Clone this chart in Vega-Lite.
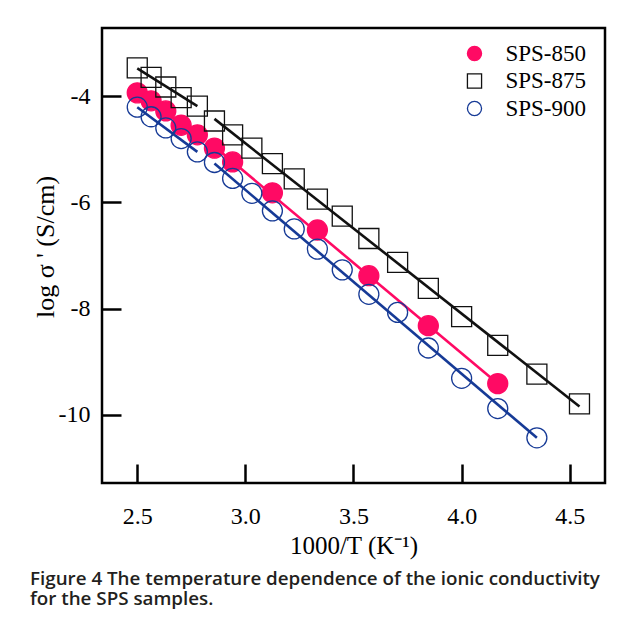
{
  "$schema": "https://vega.github.io/schema/vega-lite/v6.json",
  "width": 503,
  "height": 455,
  "autosize": "none",
  "padding": {"left": 102, "top": 28, "right": 24, "bottom": 141},
  "background": "white",
  "config": {
    "view": {"stroke": "black", "strokeWidth": 2.5},
    "font": "Liberation Serif",
    "axis": {
      "domain": false,
      "grid": false,
      "tickColor": "black",
      "tickWidth": 2.5,
      "tickSize": -19,
      "labelFont": "Liberation Serif",
      "labelFontSize": 24,
      "labelColor": "black",
      "titleFont": "Liberation Serif",
      "titleFontSize": 25,
      "titleFontWeight": "normal",
      "titleColor": "black"
    }
  },
  "title": {
    "text": ["Figure 4 The temperature dependence of the ionic conductivity", "for the SPS samples."],
    "orient": "bottom",
    "anchor": "start",
    "frame": "group",
    "align": "left",
    "dx": -72,
    "offset": 12,
    "font": "Open Sans",
    "fontSize": 18.8,
    "fontWeight": 600,
    "color": "#231f20",
    "lineHeight": 20
  },
  "datasets": {
    "pts": [
      {"series": "SPS-850", "x": 2.5, "y": -3.94},
      {"series": "SPS-850", "x": 2.564, "y": -4.09},
      {"series": "SPS-850", "x": 2.632, "y": -4.28},
      {"series": "SPS-850", "x": 2.703, "y": -4.55},
      {"series": "SPS-850", "x": 2.778, "y": -4.73},
      {"series": "SPS-850", "x": 2.857, "y": -4.98},
      {"series": "SPS-850", "x": 2.941, "y": -5.24},
      {"series": "SPS-850", "x": 3.125, "y": -5.82},
      {"series": "SPS-850", "x": 3.333, "y": -6.52},
      {"series": "SPS-850", "x": 3.571, "y": -7.38},
      {"series": "SPS-850", "x": 3.846, "y": -8.32},
      {"series": "SPS-850", "x": 4.167, "y": -9.41},
      {"series": "SPS-875", "x": 2.5, "y": -3.47},
      {"series": "SPS-875", "x": 2.564, "y": -3.65},
      {"series": "SPS-875", "x": 2.632, "y": -3.83},
      {"series": "SPS-875", "x": 2.703, "y": -4.03},
      {"series": "SPS-875", "x": 2.778, "y": -4.19},
      {"series": "SPS-875", "x": 2.857, "y": -4.47},
      {"series": "SPS-875", "x": 2.941, "y": -4.73},
      {"series": "SPS-875", "x": 3.03, "y": -4.98},
      {"series": "SPS-875", "x": 3.125, "y": -5.27},
      {"series": "SPS-875", "x": 3.226, "y": -5.56},
      {"series": "SPS-875", "x": 3.333, "y": -5.94},
      {"series": "SPS-875", "x": 3.448, "y": -6.26},
      {"series": "SPS-875", "x": 3.571, "y": -6.68},
      {"series": "SPS-875", "x": 3.704, "y": -7.13},
      {"series": "SPS-875", "x": 3.846, "y": -7.62},
      {"series": "SPS-875", "x": 4.0, "y": -8.15},
      {"series": "SPS-875", "x": 4.167, "y": -8.69},
      {"series": "SPS-875", "x": 4.348, "y": -9.23},
      {"series": "SPS-875", "x": 4.545, "y": -9.79},
      {"series": "SPS-900", "x": 2.5, "y": -4.21},
      {"series": "SPS-900", "x": 2.564, "y": -4.39},
      {"series": "SPS-900", "x": 2.632, "y": -4.6},
      {"series": "SPS-900", "x": 2.703, "y": -4.8},
      {"series": "SPS-900", "x": 2.778, "y": -5.05},
      {"series": "SPS-900", "x": 2.857, "y": -5.25},
      {"series": "SPS-900", "x": 2.941, "y": -5.55},
      {"series": "SPS-900", "x": 3.03, "y": -5.83},
      {"series": "SPS-900", "x": 3.125, "y": -6.16},
      {"series": "SPS-900", "x": 3.226, "y": -6.5},
      {"series": "SPS-900", "x": 3.333, "y": -6.88},
      {"series": "SPS-900", "x": 3.448, "y": -7.27},
      {"series": "SPS-900", "x": 3.571, "y": -7.73},
      {"series": "SPS-900", "x": 3.704, "y": -8.07},
      {"series": "SPS-900", "x": 3.846, "y": -8.74},
      {"series": "SPS-900", "x": 4.0, "y": -9.31},
      {"series": "SPS-900", "x": 4.167, "y": -9.88},
      {"series": "SPS-900", "x": 4.348, "y": -10.43}
    ],
    "fits": [
      {"series": "SPS-875", "seg": "a", "x": 2.5, "y": -3.48},
      {"series": "SPS-875", "seg": "a", "x": 2.778, "y": -4.19},
      {"series": "SPS-875", "seg": "b", "x": 2.857, "y": -4.43},
      {"series": "SPS-875", "seg": "b", "x": 4.545, "y": -9.84},
      {"series": "SPS-850", "seg": "a", "x": 2.5, "y": -3.94},
      {"series": "SPS-850", "seg": "a", "x": 2.778, "y": -4.73},
      {"series": "SPS-850", "seg": "b", "x": 2.857, "y": -4.95},
      {"series": "SPS-850", "seg": "b", "x": 4.167, "y": -9.41},
      {"series": "SPS-900", "seg": "a", "x": 2.5, "y": -4.21},
      {"series": "SPS-900", "seg": "a", "x": 2.778, "y": -5.05},
      {"series": "SPS-900", "seg": "b", "x": 2.857, "y": -5.27},
      {"series": "SPS-900", "seg": "b", "x": 4.348, "y": -10.43}
    ]
  },
  "layer": [
    {
      "data": {"name": "fits"},
      "mark": {"type": "line", "strokeWidth": 2.6},
      "encoding": {
        "x": {"field": "x", "type": "quantitative"},
        "y": {"field": "y", "type": "quantitative"},
        "detail": {"field": "seg"},
        "stroke": {"field": "series", "type": "nominal"}
      }
    },
    {
      "data": {"name": "pts"},
      "mark": {"type": "point", "filled": true, "size": 400, "strokeWidth": 1.3, "opacity": 1},
      "encoding": {
        "x": {
          "field": "x",
          "type": "quantitative",
          "scale": {"domain": [2.337, 4.663], "nice": false, "zero": false},
          "axis": {
            "values": [2.5, 3.0, 3.5, 4.0, 4.5],
            "labelExpr": "format(datum.value, '.1f')",
            "labelPadding": 40,
            "title": "1000/T (K⁻¹)",
            "titlePadding": 5
          }
        },
        "y": {
          "field": "y",
          "type": "quantitative",
          "scale": {"domain": [-11.28, -2.72], "nice": false, "zero": false},
          "axis": {
            "values": [-10, -8, -6, -4],
            "labelExpr": "'' + datum.value",
            "labelPadding": 31,
            "title": "log σ ' (S/cm)",
            "titleFontSize": 26,
            "titlePadding": 0,
            "titleY": 218.5
          }
        },
        "shape": {
          "field": "series",
          "type": "nominal",
          "scale": {"domain": ["SPS-850", "SPS-875", "SPS-900"], "range": ["circle", "square", "circle"]},
          "legend": {
            "title": null,
            "orient": "none",
            "legendX": 361,
            "legendY": 14,
            "padding": 0,
            "symbolSize": 200,
            "symbolStrokeWidth": 1.3,
            "labelFont": "Liberation Serif",
            "labelFontSize": 23,
            "labelColor": "black",
            "labelOffset": 19.5,
            "rowPadding": 3.5
          }
        },
        "fill": {
          "field": "series",
          "type": "nominal",
          "scale": {"domain": ["SPS-850", "SPS-875", "SPS-900"], "range": ["#ff0a64", "transparent", "transparent"]},
          "legend": {
            "title": null,
            "orient": "none",
            "legendX": 361,
            "legendY": 14,
            "padding": 0,
            "symbolSize": 200,
            "symbolStrokeWidth": 1.3,
            "labelFont": "Liberation Serif",
            "labelFontSize": 23,
            "labelColor": "black",
            "labelOffset": 19.5,
            "rowPadding": 3.5
          }
        },
        "stroke": {
          "field": "series",
          "type": "nominal",
          "scale": {"domain": ["SPS-850", "SPS-875", "SPS-900"], "range": ["#ff0a64", "#111111", "#163a96"]},
          "legend": {
            "title": null,
            "orient": "none",
            "legendX": 361,
            "legendY": 14,
            "padding": 0,
            "symbolSize": 200,
            "symbolStrokeWidth": 1.3,
            "labelFont": "Liberation Serif",
            "labelFontSize": 23,
            "labelColor": "black",
            "labelOffset": 19.5,
            "rowPadding": 3.5
          }
        }
      }
    }
  ]
}
